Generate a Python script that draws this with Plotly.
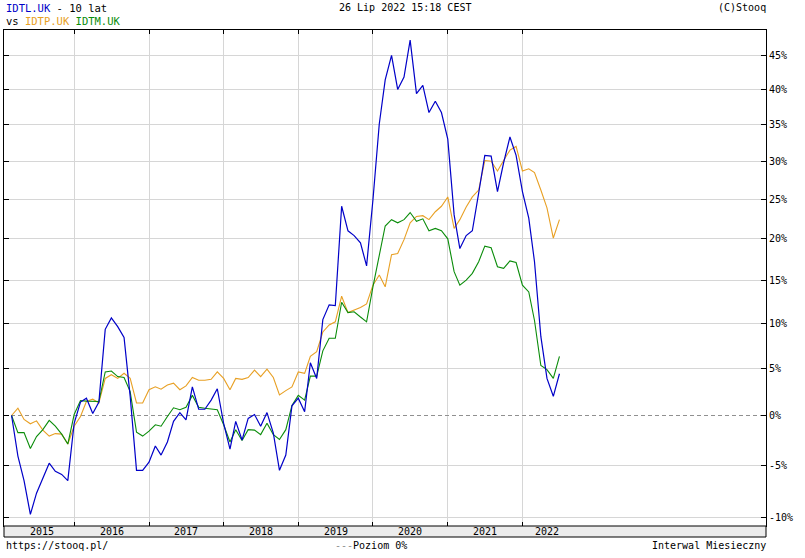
import plotly.graph_objects as go
import pandas as pd

# ---- data (monthly returns in %, relative to Mar 2015) ----
months = pd.date_range("2015-03-01", periods=89, freq="MS")

idtl = [0.0, -4.1, -6.5, -9.7, -7.7, -6.2, -4.8, -5.6, -5.9, -6.5,
        -0.8, 1.4, 1.8, 0.2, 1.4, 9.3, 10.6, 9.6, 8.4, 2.0,
        -5.5, -5.5, -4.7, -3.1, -4.0, -2.7, -0.6, 0.3, -0.45, 3.0,
        0.65, 0.65, 1.6, 2.8, -0.8, -3.4, -0.6, -2.5, -0.3, 0.1,
        -1.1, 0.3, -1.8, -5.5, -4.0, 1.0, 1.8, 0.4, 5.6, 3.9,
        10.4, 12.1, 12.0, 24.1, 21.0, 20.4, 19.5, 16.7, 24.9, 35.1,
        41.4, 45.0, 40.0, 41.8, 47.3, 39.4, 40.6, 36.7, 38.3, 36.7,
        33.0, 23.0, 18.8, 20.4, 21.0, 25.8, 30.8, 30.7, 26.0, 29.8,
        33.3, 30.8, 26.0, 22.6, 17.2, 8.5, 3.9, 2.0, 4.4]

idtp = [0.0, 0.76, -0.4, -0.85, -0.55, -1.5, -2.1, -1.85, -1.9, -2.9,
        -1.1, -0.1, 1.45, 1.7, 1.3, 3.9, 4.3, 3.9, 4.45, 3.9,
        1.3, 1.3, 2.7, 3.0, 2.75, 3.2, 3.4, 2.7, 3.1, 4.0,
        3.7, 3.7, 3.8, 4.6, 3.9, 2.7, 3.9, 3.8, 4.0, 4.8,
        4.1, 4.9, 4.0, 2.15, 2.6, 3.0, 4.6, 4.45, 6.3, 6.8,
        9.0, 9.8, 10.15, 13.1, 11.2, 11.5, 11.8, 12.2, 14.4, 15.6,
        14.2, 18.05, 18.2, 19.9, 22.0, 22.8, 22.9, 22.4, 23.4, 24.1,
        25.3, 21.3, 22.4, 24.0, 25.3, 26.2, 30.1, 30.0, 28.7, 30.1,
        31.5, 32.0, 28.7, 29.0, 28.5, 26.2, 23.9, 20.1, 22.4]

idtm = [0.0, -1.75, -1.75, -3.35, -2.15, -1.45, -0.5, -1.1, -1.9, -2.9,
        0.1, 1.55, 1.5, 1.45, 1.45, 4.6, 4.7, 4.1, 4.0, 2.5,
        -1.7, -2.1, -1.6, -0.95, -1.1, -0.1, 0.8, 0.6, 0.85, 2.1,
        0.85, 0.75, 0.65, 0.6, -0.95, -2.7, -1.45, -2.55, -1.45, -1.5,
        -1.95, -0.8, -1.95, -2.45, -1.45, 1.05, 2.1, 1.6, 4.15, 4.15,
        6.9, 8.3, 8.3, 12.4, 11.2, 11.3, 10.7, 10.15, 14.2, 17.8,
        21.6, 22.4, 22.0, 22.4, 23.3, 22.2, 22.5, 21.0, 21.3, 21.0,
        20.0, 16.0, 14.4, 15.0, 15.8, 17.2, 19.1, 18.9, 16.6, 16.4,
        17.3, 17.1, 14.4, 13.6, 10.3, 5.3, 4.85, 3.9, 6.3]

tick_pct = [-10, -5, 0, 5, 10, 15, 20, 25, 30, 35, 40, 45]
tick_text = [f"{t}%" for t in tick_pct]
year_starts = ["2016-01-01", "2017-01-01", "2018-01-01", "2019-01-01",
               "2020-01-01", "2021-01-01", "2022-01-01"]
year_labels = ["2015", "2016", "2017", "2018", "2019", "2020", "2021", "2022"]
year_label_pos = ["2015-07-27", "2016-07-02", "2017-07-02", "2018-07-02",
                  "2019-07-02", "2020-07-02", "2021-07-02", "2022-05-02"]
x_range = ["2015-01-23", "2025-04-06"]
baseline = [0, 0]

C_BLUE = "#0000c8"
C_ORANGE = "#e8a024"
C_GREEN = "#0a8c0a"
FONT = "DejaVu Sans Mono"


def ratio(vals):
    return [1 + v / 100.0 for v in vals]


fig = go.Figure()
# zero level (dashed), covering the solid gridline
fig.add_trace(go.Scatter(x=x_range, y=ratio(baseline), mode="lines",
                         line=dict(color="white", width=1.5), hoverinfo="skip"))
fig.add_trace(go.Scatter(x=x_range, y=ratio(baseline), mode="lines",
                         line=dict(color="#909090", width=1, dash="4px,3px"),
                         hoverinfo="skip"))
fig.add_trace(go.Scatter(x=months, y=ratio(idtp), mode="lines", name="IDTP.UK",
                         line=dict(color=C_ORANGE, width=1.1)))
fig.add_trace(go.Scatter(x=months, y=ratio(idtm), mode="lines", name="IDTM.UK",
                         line=dict(color=C_GREEN, width=1.1)))
fig.add_trace(go.Scatter(x=months, y=ratio(idtl), mode="lines", name="IDTL.UK",
                         line=dict(color=C_BLUE, width=1.2)))

PH = 496.0  # plot height in px

fig.update_layout(
    width=805, height=558,
    margin=dict(l=4, r=39, t=30, b=32),
    paper_bgcolor="white", plot_bgcolor="white",
    showlegend=False,
    font=dict(family=FONT, size=10, color="black"),
    xaxis=dict(type="date", range=x_range, tickvals=year_starts,
               showticklabels=False, showgrid=True, gridcolor="#d6d6d6",
               gridwidth=1, ticks="inside", ticklen=4, tickcolor="black",
               showline=True, linecolor="black", linewidth=1,
               mirror="ticks", zeroline=False),
    yaxis=dict(type="log", range=[-0.04952, 0.17277], side="right",
               tickvals=ratio(tick_pct), ticktext=tick_text,
               showgrid=True, gridcolor="#d6d6d6", gridwidth=1,
               ticks="inside", ticklen=5, tickcolor="black",
               showline=True, linecolor="black", linewidth=1,
               mirror="ticks", zeroline=False,
               tickfont=dict(family=FONT, size=10, color="black")),
)

# gray band under the plot with year labels
fig.add_shape(type="rect", xref="paper", yref="paper", x0=0, x1=1,
              y0=-11 / PH, y1=0, fillcolor="#ececec",
              line=dict(color="black", width=1), layer="above")
for lab, pos in zip(year_labels, year_label_pos):
    fig.add_annotation(x=pos, xref="x", y=-5.5 / PH, yref="paper",
                       text=lab, showarrow=False, xanchor="center",
                       yanchor="middle", font=dict(family=FONT, size=10))

# header
fig.add_annotation(x=0, xref="paper", y=1 + 22 / PH, yref="paper",
                   xanchor="left", yanchor="middle", showarrow=False,
                   text=f"<span style='color:{C_BLUE}'>IDTL.UK</span> - 10 lat",
                   font=dict(family=FONT, size=10.5))
fig.add_annotation(x=0, xref="paper", y=1 + 9 / PH, yref="paper",
                   xanchor="left", yanchor="middle", showarrow=False,
                   text=(f"vs <span style='color:{C_ORANGE}'>IDTP.UK</span> "
                         f"<span style='color:{C_GREEN}'>IDTM.UK</span>"),
                   font=dict(family=FONT, size=10.5))
fig.add_annotation(x=(405 - 4) / 762, xref="paper", y=1 + 22 / PH, yref="paper",
                   xanchor="center", yanchor="middle", showarrow=False,
                   text="26 Lip 2022 15:18 CEST", font=dict(family=FONT, size=10))
fig.add_annotation(x=(768 - 4) / 762, xref="paper", y=1 + 22 / PH, yref="paper",
                   xanchor="right", yanchor="middle", showarrow=False,
                   text="(C)Stooq", font=dict(family=FONT, size=10))

# footer
fig.add_annotation(x=0, xref="paper", y=-19 / PH, yref="paper",
                   xanchor="left", yanchor="middle", showarrow=False,
                   text="https://stooq.pl/", font=dict(family=FONT, size=10))
fig.add_annotation(x=(333 - 4) / 762, xref="paper", y=-19 / PH, yref="paper",
                   xanchor="left", yanchor="middle", showarrow=False,
                   text="<span style='color:#909090'>---</span>Poziom 0%",
                   font=dict(family=FONT, size=10))
fig.add_annotation(x=(768 - 4) / 762, xref="paper", y=-19 / PH, yref="paper",
                   xanchor="right", yanchor="middle", showarrow=False,
                   text="Interwal Miesieczny", font=dict(family=FONT, size=10))

fig.write_html("out.html",
               config={"displayModeBar": False},
               post_script="document.body.style.margin='0';"
                           "document.body.style.overflow='hidden';")
